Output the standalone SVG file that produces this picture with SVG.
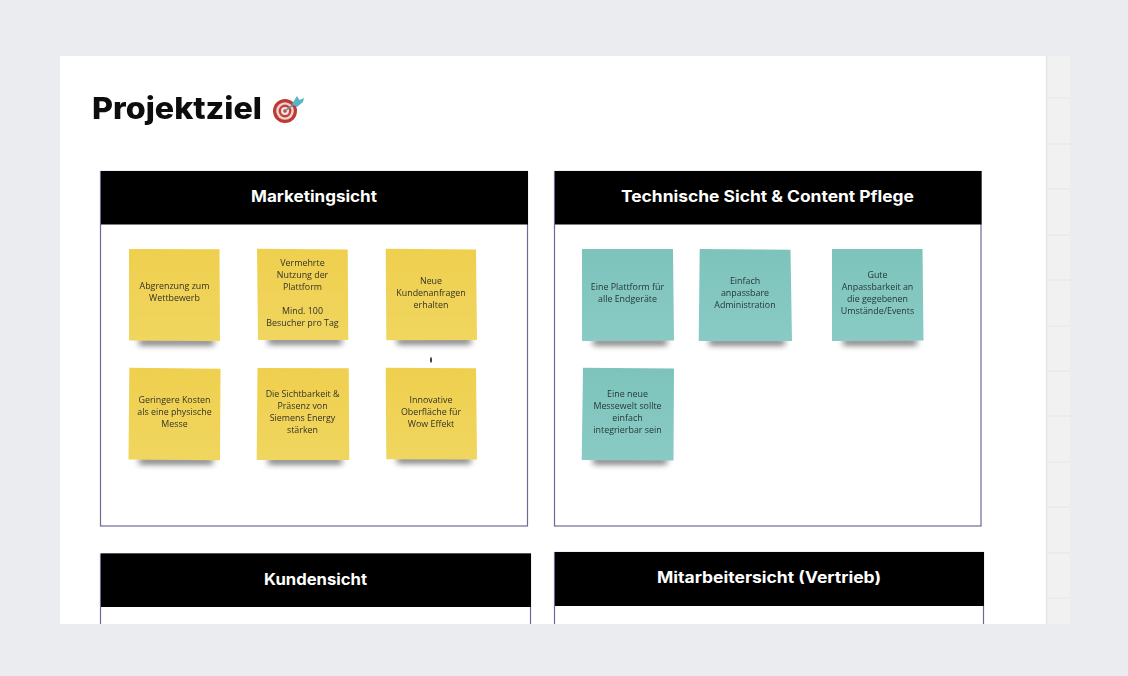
<svg xmlns="http://www.w3.org/2000/svg" width="1128" height="676" viewBox="0 0 1128 676">
<style>
.frame{fill:#fff;stroke:#6f6a94;stroke-width:1.200}
.hd{fill:#000}
.ht{font-family:"Inter","Liberation Sans",sans-serif;font-weight:700;font-size:15.500px;fill:#fff;text-anchor:middle}
.st{font-family:"Open Sans","Noto Sans",sans-serif;font-size:8.900px;fill:#33332a;text-anchor:middle}
.tl{fill:#263836}
.y{fill:url(#gy)}
.t{fill:url(#gt)}
.sh{fill:#000;opacity:.6;filter:url(#b)}
.g{stroke:#e9e9ea;stroke-width:1.500}
</style>
<defs>
<linearGradient id="gy" x1="0" y1="0" x2="0" y2="1"><stop offset="0" stop-color="#efcf4e"/><stop offset="1" stop-color="#f0d65f"/></linearGradient>
<linearGradient id="gt" x1="0" y1="0" x2="0" y2="1"><stop offset="0" stop-color="#7dc3bc"/><stop offset="1" stop-color="#89cbc4"/></linearGradient>
<filter id="b" x="-20%" y="-300%" width="140%" height="700%"><feGaussianBlur stdDeviation="3"/></filter>
<filter id="s" x="-5%" y="-20%" width="110%" height="140%"><feGaussianBlur stdDeviation=".3"/></filter>
</defs>
<rect width="1128" height="676" fill="#ebecf0"/>
<rect x="1046" y="56" width="24" height="568" fill="#f1f1f2"/>
<g class="g"><path d="M1047 98H1070M1047 144H1070M1047 189H1070M1047 235H1070M1047 280H1070M1047 326H1070M1047 371H1070M1047 416H1070M1047 462H1070M1047 507H1070M1047 553H1070M1047 598H1070"/></g>
<rect x="60" y="56" width="986" height="568" fill="#fff"/>
<path d="M1046.500 56V624" stroke="#e6e6e8" stroke-width="1.500"/>
<g id="title">
<text x="92" y="119" font-family="Inter,'Liberation Sans',sans-serif" font-weight="800" font-size="30.500px" fill="#0b0b0b" filter="url(#s)" textLength="170" lengthAdjust="spacingAndGlyphs">Projektziel</text>
<g id="target-icon" filter="url(#s)">
<circle cx="285" cy="111" r="12" fill="#bd3a33"/>
<circle cx="285" cy="111" r="8.800" fill="#ecd6d0"/>
<circle cx="285" cy="111" r="6.400" fill="#c4433b"/>
<circle cx="285" cy="111" r="4" fill="#f1e3df"/>
<circle cx="285" cy="111" r="1.800" fill="#c4433b"/>
<path d="M285 111L298 101" stroke="#6e8c94" stroke-width="1.500"/>
<path d="M292 104L297 96L299.500 100L304 98L303 102L297 107Z" fill="#58b4c6"/>
</g>
</g>
<g id="marketing">
<rect class="frame" x="100.500" y="171.500" width="427" height="354.500"/>
<rect class="hd" x="101" y="171" width="427" height="53.500"/>
<text class="ht" x="314" y="202" textLength="126" lengthAdjust="spacingAndGlyphs">Marketingsicht</text>
</g>
<g id="technik">
<rect class="frame" x="554.500" y="171.500" width="426.500" height="354.500"/>
<rect class="hd" x="555" y="171" width="426.500" height="53.500"/>
<text class="ht" x="767.500" y="202" textLength="293" lengthAdjust="spacingAndGlyphs">Technische Sicht &amp; Content Pflege</text>
</g>
<g id="kunden">
<rect class="frame" x="100.500" y="554" width="430" height="90"/>
<rect class="hd" x="101" y="553.500" width="430" height="53.500"/>
<text class="ht" x="315.500" y="585" textLength="103" lengthAdjust="spacingAndGlyphs">Kundensicht</text>
</g>
<g id="vertrieb">
<rect class="frame" x="554.500" y="552.500" width="429" height="90"/>
<rect class="hd" x="555" y="552" width="429" height="54"/>
<text class="ht" x="769" y="583" textLength="224" lengthAdjust="spacingAndGlyphs">Mitarbeitersicht (Vertrieb)</text>
</g>
<g id="y1"><rect class="sh" x="139" y="339" width="75" height="6"/><polygon class="y" points="129,249 219.500,249.300 220,341 129,340.500"/><text class="st" filter="url(#s)" x="174.500" y="289">Abgrenzung zum</text><text class="st" filter="url(#s)" x="174.500" y="301">Wettbewerb</text></g>
<g id="y2"><rect class="sh" x="268" y="338" width="74" height="6"/><polygon class="y" points="257,248.700 347.700,249.500 348.300,340 258,340"/><text class="st" filter="url(#s)" x="302.500" y="265.500">Vermehrte</text><text class="st" filter="url(#s)" x="302.500" y="277.500">Nutzung der</text><text class="st" filter="url(#s)" x="302.500" y="289.500">Plattform</text><text class="st" filter="url(#s)" x="302.500" y="313.500">Mind. 100</text><text class="st" filter="url(#s)" x="302.500" y="325.500">Besucher pro Tag</text></g>
<g id="y3"><rect class="sh" x="397" y="338" width="74" height="6"/><polygon class="y" points="385.700,248.700 476,249.500 477,340 386.300,340.300"/><text class="st" filter="url(#s)" x="431" y="283.500">Neue</text><text class="st" filter="url(#s)" x="431" y="295.500">Kundenanfragen</text><text class="st" filter="url(#s)" x="431" y="307.500">erhalten</text></g>
<g id="y4"><rect class="sh" x="139" y="458" width="74" height="6"/><polygon class="y" points="129.300,367.700 220.500,368.700 220,460.300 128.500,459.500"/><text class="st" filter="url(#s)" x="174.500" y="402.500">Geringere Kosten</text><text class="st" filter="url(#s)" x="174.500" y="414.500">als eine physische</text><text class="st" filter="url(#s)" x="174.500" y="426.500">Messe</text></g>
<g id="y5"><rect class="sh" x="268" y="458" width="74" height="6"/><polygon class="y" points="257.500,368 348.700,368.300 349.300,460 256.700,460"/><text class="st" filter="url(#s)" x="302.500" y="396.500">Die Sichtbarkeit &amp;</text><text class="st" filter="url(#s)" x="302.500" y="408.500">Präsenz von</text><text class="st" filter="url(#s)" x="302.500" y="420.500">Siemens Energy</text><text class="st" filter="url(#s)" x="302.500" y="432.500">stärken</text></g>
<g id="y6"><rect class="sh" x="397" y="457" width="74" height="6"/><polygon class="y" points="385.700,367.700 476,368.300 477,459.500 386.300,459.300"/><text class="st" filter="url(#s)" x="431" y="402.500">Innovative</text><text class="st" filter="url(#s)" x="431" y="414.500">Oberfläche für</text><text class="st" filter="url(#s)" x="431" y="426.500">Wow Effekt</text></g>
<ellipse id="dot" cx="431" cy="360" rx="1" ry="3" fill="#333"/>
<g id="t1"><rect class="sh" x="593" y="339" width="74" height="6"/><polygon class="t" points="582,249 673,249 674,340.500 582,341"/><text class="st tl" filter="url(#s)" x="627.500" y="289.500">Eine Plattform für</text><text class="st tl" filter="url(#s)" x="627.500" y="301.500">alle Endgeräte</text></g>
<g id="t2"><rect class="sh" x="709" y="339" width="76" height="6"/><polygon class="t" points="699.700,249 790.500,249.700 792,341 698.700,341"/><text class="st tl" filter="url(#s)" x="745" y="283.500">Einfach</text><text class="st tl" filter="url(#s)" x="745" y="295.500">anpassbare</text><text class="st tl" filter="url(#s)" x="745" y="307.500">Administration</text></g>
<g id="t3"><rect class="sh" x="843" y="339" width="74" height="6"/><polygon class="t" points="832,249 922.500,249 923.500,340.500 832,341"/><text class="st tl" filter="url(#s)" x="877.500" y="277.500">Gute</text><text class="st tl" filter="url(#s)" x="877.500" y="289.500">Anpassbarkeit an</text><text class="st tl" filter="url(#s)" x="877.500" y="301.500">die gegebenen</text><text class="st tl" filter="url(#s)" x="877.500" y="313.500">Umstände/Events</text></g>
<g id="t4"><rect class="sh" x="593" y="458" width="74" height="6"/><polygon class="t" points="583,367.700 674,368.500 673.500,460.500 581.700,460"/><text class="st tl" filter="url(#s)" x="627.500" y="397">Eine neue</text><text class="st tl" filter="url(#s)" x="627.500" y="409">Messewelt sollte</text><text class="st tl" filter="url(#s)" x="627.500" y="421">einfach</text><text class="st tl" filter="url(#s)" x="627.500" y="433">integrierbar sein</text></g>
<rect x="0" y="624" width="1128" height="52" fill="#ebecf0"/>
<g id="connectors"></g>
</svg>
